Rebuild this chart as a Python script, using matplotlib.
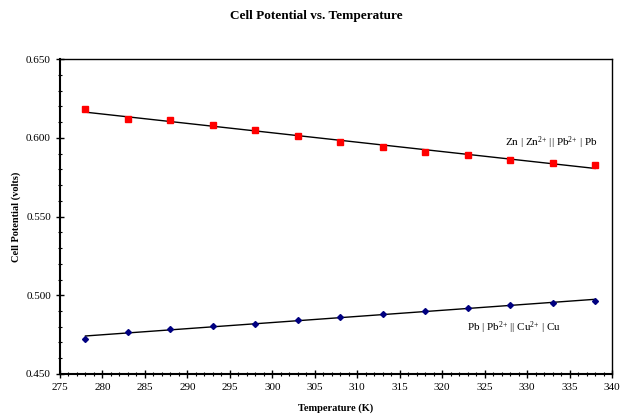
import numpy as np
import matplotlib
matplotlib.use("Agg")
import matplotlib.pyplot as plt
from matplotlib.ticker import MultipleLocator, FormatStrFormatter

plt.rcParams['font.family'] = ['Liberation Serif', 'DejaVu Serif']
plt.rcParams['mathtext.fontset'] = 'custom'
plt.rcParams['mathtext.rm'] = 'Liberation Serif'
plt.rcParams['mathtext.it'] = 'Liberation Serif:italic'
plt.rcParams['mathtext.bf'] = 'Liberation Serif:bold'

temperature = [278, 283, 288, 293, 298, 303, 308, 313, 318, 323, 328, 333, 338]
zn_pb = [0.618, 0.612, 0.611, 0.608, 0.605, 0.601, 0.597, 0.594, 0.591, 0.589, 0.586, 0.584, 0.583]
pb_cu = [0.472, 0.4767, 0.4786, 0.4805, 0.4817, 0.4843, 0.4862, 0.4881, 0.490, 0.4919, 0.4938, 0.4951, 0.4963]

fig = plt.figure(figsize=(6.21, 4.15), dpi=100)
ax = fig.add_axes([0.0966, 0.0988, 0.8889, 0.759])

T = np.array(temperature)
for vals, color, marker, ms in [(zn_pb, '#ff0000', 's', 4.5), (pb_cu, '#000080', 'D', 3.0)]:
    v = np.array(vals)
    m, b = np.polyfit(T, v, 1)
    xs = np.array([T.min(), T.max()])
    ax.plot(xs, m * xs + b, color='black', lw=1.0, zorder=2)
    ax.plot(T, v, linestyle='none', marker=marker, color=color,
            markersize=ms, zorder=3)

ax.set_xlim(275, 340)
ax.set_ylim(0.450, 0.650)
ax.xaxis.set_major_locator(MultipleLocator(5))
ax.xaxis.set_minor_locator(MultipleLocator(1))
ax.yaxis.set_major_locator(MultipleLocator(0.05))
ax.yaxis.set_minor_locator(MultipleLocator(0.01))
ax.yaxis.set_major_formatter(FormatStrFormatter('%.3f'))
ax.tick_params(which='major', direction='inout', length=6, width=1, labelsize=8, colors='black')
ax.tick_params(which='minor', direction='inout', length=3.5, width=0.8)
for s in ax.spines.values():
    s.set_linewidth(1.0)
ax.spines['left'].set_linewidth(1.5)
ax.spines['bottom'].set_linewidth(1.5)

ax.set_xlabel('Temperature (K)', fontsize=7.5, fontweight='bold', labelpad=8)
ax.set_ylabel('Cell Potential (volts)', fontsize=7.5, fontweight='bold', labelpad=4)
fig.suptitle('Cell Potential vs. Temperature', fontsize=9.5, fontweight='bold', x=0.509, y=0.975)

ax.text(327.4, 0.5967, r'Zn | Zn$^{2{+}}$ || Pb$^{2{+}}$ | Pb', fontsize=8, va='center', ha='left')
ax.text(322.9, 0.4792, r'Pb | Pb$^{2{+}}$ || Cu$^{2{+}}$ | Cu', fontsize=8, va='center', ha='left')

fig.savefig('out.png', dpi=100)
